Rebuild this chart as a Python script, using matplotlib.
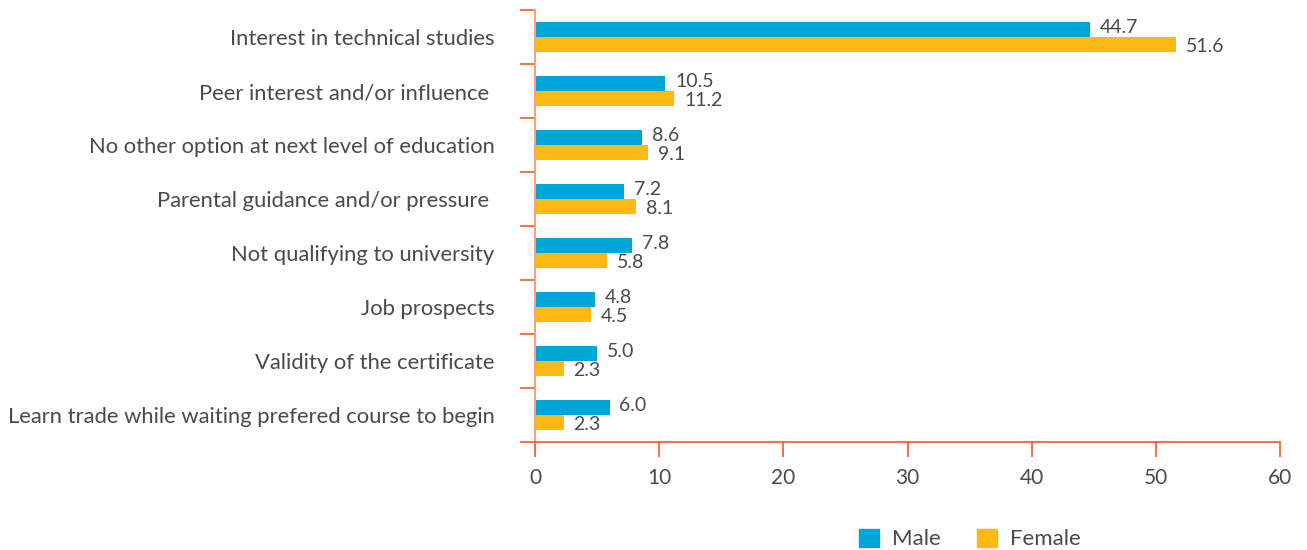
#!/usr/bin/env python

"""
Reasons for choosing technical studies, by sex (grouped horizontal bars).
"""

import numpy as np
import matplotlib.pyplot as plt
from matplotlib.patches import Patch

# data
categories = [
    'Interest in technical studies',
    'Peer interest and/or influence ',
    'No other option at next level of education',
    'Parental guidance and/or pressure ',
    'Not qualifying to university',
    'Job prospects',
    'Validity of the certificate',
    'Learn trade while waiting prefered course to begin',
]
male = [44.7, 10.5, 8.6, 7.2, 7.8, 4.8, 5.0, 6.0]
female = [51.6, 11.2, 9.1, 8.1, 5.8, 4.5, 2.3, 2.3]
x_ticks = [0, 10, 20, 30, 40, 50, 60]


def main():
    """ main body """
    plt.rcParams['font.family'] = ['Lato', 'DejaVu Sans']

    blue = '#00A6D8'
    yellow = '#FCB813'
    text_col = '#4a4a4a'
    axis_col = '#F15A22'
    light_col = '#F5A283'

    fig = plt.figure(figsize=(13.07, 5.5), dpi=100)
    ax = fig.add_axes([535 / 1307, 1 - 442 / 550, 745 / 1307, 432 / 550])

    pos = np.arange(len(categories))
    h = 0.285
    ax.barh(pos - h / 2, male, height=h, color=blue)
    ax.barh(pos + h / 2, female, height=h, color=yellow)

    # value labels
    for i in range(len(categories)):
        ax.text(male[i] + 0.8, pos[i] - h / 2 - 0.04, f'{male[i]:.1f}',
                va='center', ha='left', fontsize=14, color=text_col)
        ax.text(female[i] + 0.8, pos[i] + h / 2 + 0.04, f'{female[i]:.1f}',
                va='center', ha='left', fontsize=14, color=text_col)

    ax.set_xlim(0, 60)
    ax.set_ylim(len(categories) - 0.5, -0.5)

    ax.set_yticks(pos)
    ax.set_yticklabels(categories, fontsize=15.8, color=text_col)
    ax.set_yticks(np.arange(len(categories) + 1) - 0.5, minor=True)
    ax.tick_params(axis='y', which='major', length=0, pad=29)
    ax.tick_params(axis='y', which='minor', length=11, width=1.2,
                   color=axis_col)

    ax.set_xticks(x_ticks)
    ax.set_xticklabels([str(t) for t in x_ticks], fontsize=15, color=text_col)
    ax.tick_params(axis='x', length=11, width=1.2, color=axis_col, pad=8)

    for side in ['top', 'right']:
        ax.spines[side].set_visible(False)
    ax.spines['left'].set_color(light_col)
    ax.spines['left'].set_linewidth(1.5)
    ax.spines['bottom'].set_color(axis_col)
    ax.spines['bottom'].set_linewidth(1.2)

    handles = [Patch(color=blue, label='Male'),
               Patch(color=yellow, label='Female')]
    fig.legend(handles=handles, loc='center', bbox_to_anchor=(0.742, 0.02),
               ncol=2, frameon=False, fontsize=16, handlelength=0.9,
               handleheight=0.9, columnspacing=1.6, handletextpad=0.6,
               labelcolor=text_col)

    fig.savefig('out.png', dpi=100)


if __name__ == "__main__":
    main()
